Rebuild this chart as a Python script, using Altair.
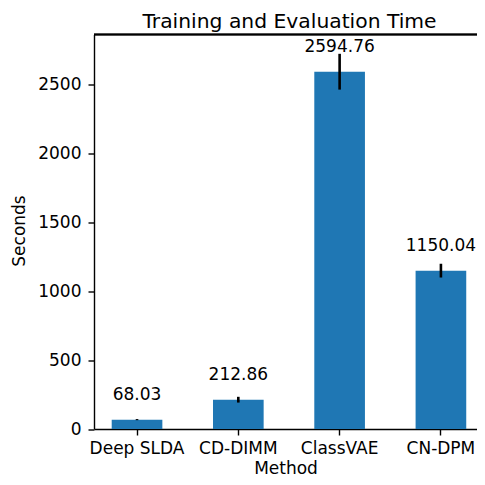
import altair as alt
import pandas as pd

methods = ["Deep SLDA", "CD-DIMM", "ClassVAE", "CN-DPM"]
means = [68.03, 212.86, 2594.76, 1150.04]
stds = [4, 21, 130, 50]

df = pd.DataFrame({"Method": methods, "Seconds": means, "std": stds})
df["lo"] = df["Seconds"] - df["std"]
df["hi"] = df["Seconds"] + df["std"]
df["label"] = [f"{v:.2f}" for v in means]

FONT = "DejaVu Sans"
W = 383
H = 394.5

xscale = alt.Scale(paddingInner=0.5, paddingOuter=0.1405, align=0.622)
xenc = alt.X(
    "Method:N",
    sort=methods,
    scale=xscale,
    axis=alt.Axis(labelAngle=0, title="Method", titleY=39, titleBaseline="middle",
                  labelPadding=5),
)
yscale = alt.Scale(domain=[0, 2865], nice=False, zero=True)

bars = alt.Chart(df).mark_bar(color="#1f77b4").encode(
    x=xenc,
    y=alt.Y("Seconds:Q", scale=yscale,
            axis=alt.Axis(values=[0, 500, 1000, 1500, 2000, 2500], format="d",
                          title="Seconds",
                          titleX=-75, titleY=196, titleBaseline="middle", titleAngle=-90,
                          labelPadding=7)),
)

err = alt.Chart(df).mark_rule(color="black", strokeWidth=2.6).encode(
    x=alt.X("Method:N", sort=methods),
    y=alt.Y("lo:Q", scale=yscale),
    y2="hi:Q",
)

text = alt.Chart(df).mark_text(dy=-20, baseline="alphabetic", fontSize=17, font=FONT,
                               color="black").encode(
    x=alt.X("Method:N", sort=methods),
    y=alt.Y("Seconds:Q", scale=yscale),
    text="label:N",
)

top_spine = alt.Chart(df).mark_rule(color="black", strokeWidth=1.4).encode(
    x=alt.value(0), x2=alt.value(W), y=alt.value(0)
)

chart = alt.layer(bars, err, text, top_spine).properties(
    width=W,
    height=H,
    title=alt.TitleParams("Training and Evaluation Time", fontSize=20.3, font=FONT,
                          fontWeight="normal", color="black", offset=2, dx=4),
    autosize=alt.AutoSizeParams(type="none"),
    padding={"left": 86, "top": 26.5, "right": 0, "bottom": 48},
    background="white",
).configure_view(
    stroke=None
).configure_axis(
    grid=False,
    domainColor="black", domainWidth=1.4,
    tickColor="black", tickWidth=1.4, tickSize=6,
    labelFont=FONT, labelFontSize=17, labelColor="black",
    titleFont=FONT, titleFontSize=17, titleColor="black", titleFontWeight="normal",
)

chart.save("out.html", embed_options={"renderer": "svg", "actions": False})
